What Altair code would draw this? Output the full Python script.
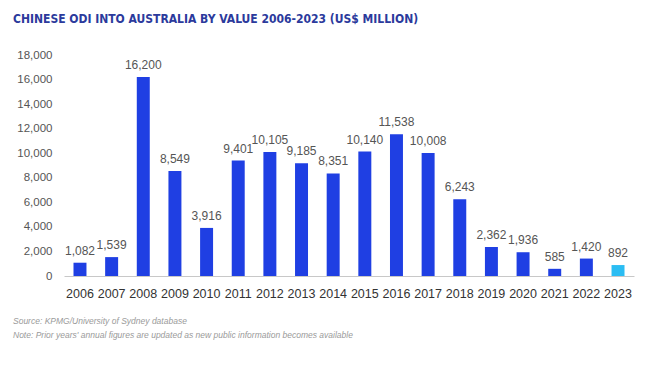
import altair as alt
import pandas as pd

years = [str(y) for y in range(2006, 2024)]
values = [1082, 1539, 16200, 8549, 3916, 9401, 10105, 9185, 8351, 10140,
          11538, 10008, 6243, 2362, 1936, 585, 1420, 892]
highlight = ["past"] * 17 + ["latest"]

df = pd.DataFrame({"year": years, "value": values, "kind": highlight})

x = alt.X("year:N", title=None, sort=years,
          scale=alt.Scale(paddingInner=0.59, paddingOuter=0.3),
          axis=alt.Axis(labelAngle=0, ticks=False, domainColor="#c8c8c8",
                        labelColor="#333333", labelFontSize=12.5, labelPadding=11,
                        labelFont="Liberation Sans"))
y = alt.Y("value:Q", title=None,
          scale=alt.Scale(domain=[0, 18000]),
          axis=alt.Axis(values=list(range(0, 18001, 2000)), format=",d",
                        grid=False, domain=False, ticks=False,
                        labelColor="#555555", labelFontSize=11.5, labelPadding=12,
                        labelFont="Liberation Sans"))

bars = alt.Chart(df).mark_bar().encode(
    x=x, y=y,
    color=alt.Color("kind:N", scale=alt.Scale(domain=["past", "latest"],
                                              range=["#1f3fe3", "#2bbdf3"]),
                    legend=None),
)

labels = alt.Chart(df).mark_text(dy=-12, fontSize=12, color="#555555",
                                 font="Liberation Sans").encode(
    x=x, y=y,
    text=alt.Text("value:Q", format=","))

note_style = dict(align="left", fontSize=8.5, fontStyle="italic",
                  fontWeight="normal", color="#9a9a9a", font="Liberation Sans")
note1 = alt.Chart().mark_text(**note_style).encode(
    x=alt.value(-51), y=alt.value(266),
    text=alt.value("Source: KPMG/University of Sydney database"))
note2 = alt.Chart().mark_text(**note_style).encode(
    x=alt.value(-51), y=alt.value(280),
    text=alt.value("Note: Prior years' annual figures are updated as new public information becomes available"))

chart = alt.layer(bars, labels, note1, note2).properties(
    width=570, height=221,
    title=alt.TitleParams(
        "CHINESE ODI INTO AUSTRALIA BY VALUE 2006-2023 (US$ MILLION)",
        anchor="start", frame="group", dx=-51, offset=23,
        font="DejaVu Sans Condensed", fontSize=12, fontWeight="bold",
        color="#2b3a9c"),
).configure_view(stroke=None)

chart.save("out.html", embed_options={"renderer": "svg", "actions": False})
